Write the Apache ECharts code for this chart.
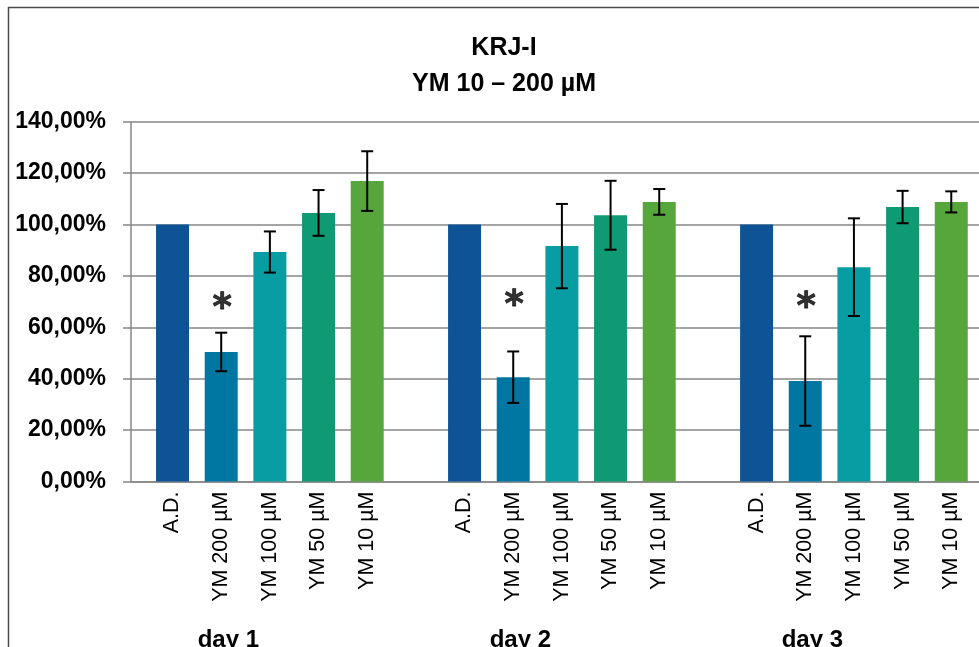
<!DOCTYPE html>
<html><head><meta charset="utf-8">
<script src="https://cdn.jsdelivr.net/npm/echarts@6/dist/echarts.min.js"></script>
<style>html,body{margin:0;padding:0;background:#fff}#c{width:979px;height:647px}</style>
</head><body><div id="c"></div>
<script>
// ---- data ----
const treatments = ['A.D.', 'YM 200 µM', 'YM 100 µM', 'YM 50 µM', 'YM 10 µM'];
const days = ['day 1', 'day 2', 'day 3'];
const day1Mean = [100, 50.4, 89.3, 104.5, 116.9];
const day1Err  = [0, 7.5, 8.0, 8.9, 11.6];
const day2Mean = [100, 40.6, 91.6, 103.6, 108.8];
const day2Err  = [0, 10.0, 16.4, 13.4, 5.0];
const day3Mean = [100, 39.1, 83.4, 106.8, 108.8];
const day3Err  = [0, 17.4, 19.0, 6.3, 4.1];
const starLevel = [71, 72, 71.4];        // position of the "*" over YM 200 µM
const starTreatment = 1;
const yMin = 0, yMax = 140, yStep = 20;
const colors = ['#0E5396', '#0077A3', '#089DA3', '#0F9A73', '#57A63B'];

// ---- build flat category list ----
const means = [day1Mean, day2Mean, day3Mean];
const errs = [day1Err, day2Err, day3Err];
const cats = [], barData = [], errData = [], starData = [];
days.forEach((d, di) => {
  if (di > 0) { cats.push(''); barData.push('-'); }
  treatments.forEach((t, ti) => {
    const idx = cats.length;
    cats.push(t);
    barData.push({ value: means[di][ti], itemStyle: { color: colors[ti] } });
    if (errs[di][ti] > 0) errData.push([idx, means[di][ti] - errs[di][ti], means[di][ti] + errs[di][ti]]);
    if (ti === starTreatment) starData.push([idx, starLevel[di]]);
  });
});
// day label axis: one slot per category position, label at 3rd slot of each group
const dayCats = [];
for (let i = 0; i < 19; i++) dayCats.push('');
days.forEach((d, di) => { dayCats[2 + di * 6] = d; });

const gridLine = '#878787';
const chart = echarts.init(document.getElementById('c'));
chart.setOption({
  animation: false,
  title: {
    text: 'KRJ-I\nYM 10 – 200 µM',
    left: 499, top: 25, textAlign: 'center',
    textStyle: { fontFamily: 'Liberation Sans', fontWeight: 'bold', fontSize: 25, lineHeight: 36, color: '#000' }
  },
  graphic: [{
    type: 'rect', silent: true, z: -10,
    shape: { x: 8.5, y: 7.5, width: 1100, height: 800 },
    style: { fill: 'none', stroke: '#4a4a4a', lineWidth: 1.5 }
  }],
  grid: [
    { left: 131, width: 876, top: 121.7, bottom: 165.5, containLabel: false, outerBoundsMode: 'none' },
    { left: 148.2, width: 827.4, top: 121.7, bottom: 165.5, containLabel: false, outerBoundsMode: 'none' }
  ],
  xAxis: [
    {
      gridIndex: 0, type: 'category', data: dayCats, boundaryGap: false,
      axisLine: { show: true, lineStyle: { color: gridLine, width: 1.5 } },
      axisTick: { show: false },
      axisLabel: { interval: 0, margin: 147, color: '#000', fontFamily: 'Liberation Sans', fontWeight: 'bold', fontSize: 24 },
      splitLine: { show: false }
    },
    {
      gridIndex: 1, type: 'category', data: cats,
      axisLine: { show: false }, axisTick: { show: false },
      axisLabel: { interval: 0, rotate: 90, margin: 10, color: '#000', fontFamily: 'Liberation Sans', fontSize: 21.5 },
      splitLine: { show: false }
    }
  ],
  yAxis: [
    {
      gridIndex: 0, type: 'value', min: yMin, max: yMax, interval: yStep,
      axisLine: { show: true, lineStyle: { color: gridLine, width: 1.5 } },
      axisTick: { show: true, length: 8, lineStyle: { color: gridLine, width: 1.5 } },
      axisLabel: { margin: 25, color: '#000', fontFamily: 'Liberation Sans', fontWeight: 'bold', fontSize: 23,
        formatter: v => v.toFixed(2).replace('.', ',') + '%' },
      splitLine: { show: true, lineStyle: { color: gridLine, width: 1.5 } }
    },
    {
      gridIndex: 1, type: 'value', min: yMin, max: yMax, interval: yStep,
      axisLine: { show: false }, axisTick: { show: false }, axisLabel: { show: false }, splitLine: { show: false }
    }
  ],
  series: [
    { type: 'bar', xAxisIndex: 1, yAxisIndex: 1, data: barData, barWidth: 33 },
    {
      type: 'custom', xAxisIndex: 1, yAxisIndex: 1, data: errData, z: 5,
      renderItem: function (params, api) {
        const x = api.value(0);
        const lo = api.coord([x, api.value(1)]);
        const hi = api.coord([x, api.value(2)]);
        const hw = 6;
        const st = { stroke: '#000', lineWidth: 2 };
        return { type: 'group', children: [
          { type: 'line', shape: { x1: hi[0], y1: hi[1], x2: lo[0], y2: lo[1] }, style: st },
          { type: 'line', shape: { x1: hi[0] - hw, y1: hi[1], x2: hi[0] + hw, y2: hi[1] }, style: st },
          { type: 'line', shape: { x1: lo[0] - hw, y1: lo[1], x2: lo[0] + hw, y2: lo[1] }, style: st }
        ] };
      }
    },
    {
      type: 'scatter', xAxisIndex: 1, yAxisIndex: 1, data: starData, symbolSize: 0, z: 6,
      label: { show: true, position: 'inside', formatter: '*', color: '#000', offset: [1, 10],
        fontFamily: 'DejaVu Sans', fontWeight: 'bold', fontSize: 37,
        textBorderColor: '#000', textBorderWidth: 0.8 }
    }
  ]
});
</script></body></html>
